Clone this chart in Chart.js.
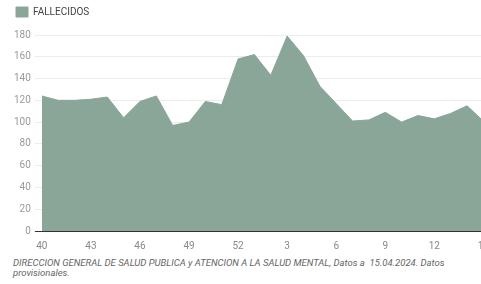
<!DOCTYPE html>
<html>
<head>
<meta charset="utf-8">
<script src="https://cdn.jsdelivr.net/npm/chart.js@4"></script>
<style>
  html, body { margin: 0; padding: 0; background: #fff; overflow: hidden; }
  #wrap { width: 490px; height: 253px; position: relative; }
  #nota {
    position: absolute; left: 13px; top: 258px; width: 460px;
    font: italic 9.5px Roboto, "Liberation Sans", sans-serif; color: #666; line-height: 10px;
  }
</style>
</head>
<body>
<div id="wrap"><canvas id="grafico"></canvas></div>
<div id="nota">DIRECCION GENERAL DE SALUD PUBLICA y ATENCION A LA SALUD MENTAL, Datos a&nbsp; 15.04.2024. Datos provisionales.</div>
<script>
// ---- Datos ----
const semanas = ["40","41","42","43","44","45","46","47","48","49","50","51","52",
  "1","2","3","4","5","6","7","8","9","10","11","12","13","14","15"];
const fallecidos = [124, 120, 120, 121, 123, 104, 119, 124, 97, 100, 119, 116, 158,
  162, 143, 179, 161, 133, 117, 101, 102, 109, 100, 106, 103, 108, 115, 101];
const ticksY = [0, 20, 40, 60, 80, 100, 120, 140, 160, 180];

// espacio extra bajo la leyenda
const separarLeyenda = {
  id: "separarLeyenda",
  beforeInit(chart) {
    const fitOrig = chart.legend.fit;
    chart.legend.fit = function () {
      fitOrig.bind(chart.legend)();
      this.height += 8;
    };
  }
};

const ctx = document.getElementById("grafico").getContext("2d");
const grafico = new Chart(ctx, {
  type: "line",
  data: {
    labels: semanas,
    datasets: [{
      label: "FALLECIDOS",
      data: fallecidos,
      fill: "origin",
      backgroundColor: "#89a698",
      borderColor: "#89a698",
      borderWidth: 1,
      pointRadius: 0,
      tension: 0
    }]
  },
  options: {
    responsive: true,
    maintainAspectRatio: false,
    animation: false,
    layout: { padding: { left: 10, right: 0, top: 1, bottom: 0 } },
    plugins: {
      legend: {
        align: "start",
        labels: {
          boxWidth: 12, boxHeight: 10, padding: 6,
          color: "#444",
          font: { family: "Roboto", size: 10 }
        }
      },
      tooltip: { enabled: false }
    },
    scales: {
      x: {
        grid: { display: false },
        border: { color: "#333" },
        ticks: {
          autoSkip: false, maxRotation: 0, color: "#888", padding: 1,
          font: { family: "Roboto", size: 10 },
          callback: (v, i) => (i % 3 === 0 ? semanas[i] : "")
        }
      },
      y: {
        min: 0, max: 180,
        afterBuildTicks: (s) => { s.ticks = ticksY.map(v => ({ value: v })); },
        border: { display: false },
        grid: {
          color: (c) => (c.tick && c.tick.value === 0 ? "#333" : "#ececec"),
          tickLength: 7
        },
        ticks: { color: "#999", padding: 4, font: { family: "Roboto", size: 10 } }
      }
    }
  },
  plugins: [separarLeyenda]
});
</script>
</body>
</html>
